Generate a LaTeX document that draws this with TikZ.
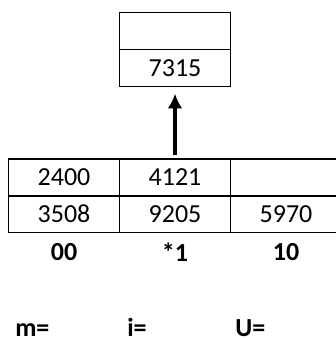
\documentclass[tikz,border=0pt]{standalone}
\usepackage{fontspec}
\setmainfont{Carlito}
\usetikzlibrary{arrows.meta}

\tikzset{
  cell/.style={draw,line width=1.1pt,minimum width=83.4pt,minimum height=27.4pt,
    inner sep=0pt,font=\fontsize{19.5}{23}\selectfont},
  tag/.style={font=\fontsize{19.5}{23}\selectfont\bfseries,inner sep=0pt}
}

\begin{document}
\begin{tikzpicture}[x=0.75pt,y=-0.75pt]
\useasboundingbox (0,0) rectangle (335,338);
% bucket above
\node[cell] (top1) at (175,31) {};
\node[cell] (top2) at (175,68) {7315};
% table of buckets
\node[cell] (a1) at (64,177.5) {2400};
\node[cell] (b1) at (175,177.5) {4121};
\node[cell] (c1) at (286,177.5) {};
\node[cell] (a2) at (64,214) {3508};
\node[cell] (b2) at (175,214) {9205};
\node[cell] (c2) at (286,214) {5970};
% bucket addresses
\node[tag] (l00) at (64,252) {00};
\node[tag] (l01) at (175,252) {*1};
\node[tag] (l10) at (286,252) {10};
\draw[line width=2.4pt,-{Latex[length=11pt,width=11pt]}] (b1.north) ++(0,-3) coordinate (from) (from) -- ([yshift=-5]top2.south);
% variables
\node[tag,anchor=base west] (m) at (15,336) {m=};
\node[tag,anchor=base west] (i) at (127,336) {i=};
\node[tag,anchor=base west] (u) at (235,336) {U=};
\end{tikzpicture}
\end{document}
